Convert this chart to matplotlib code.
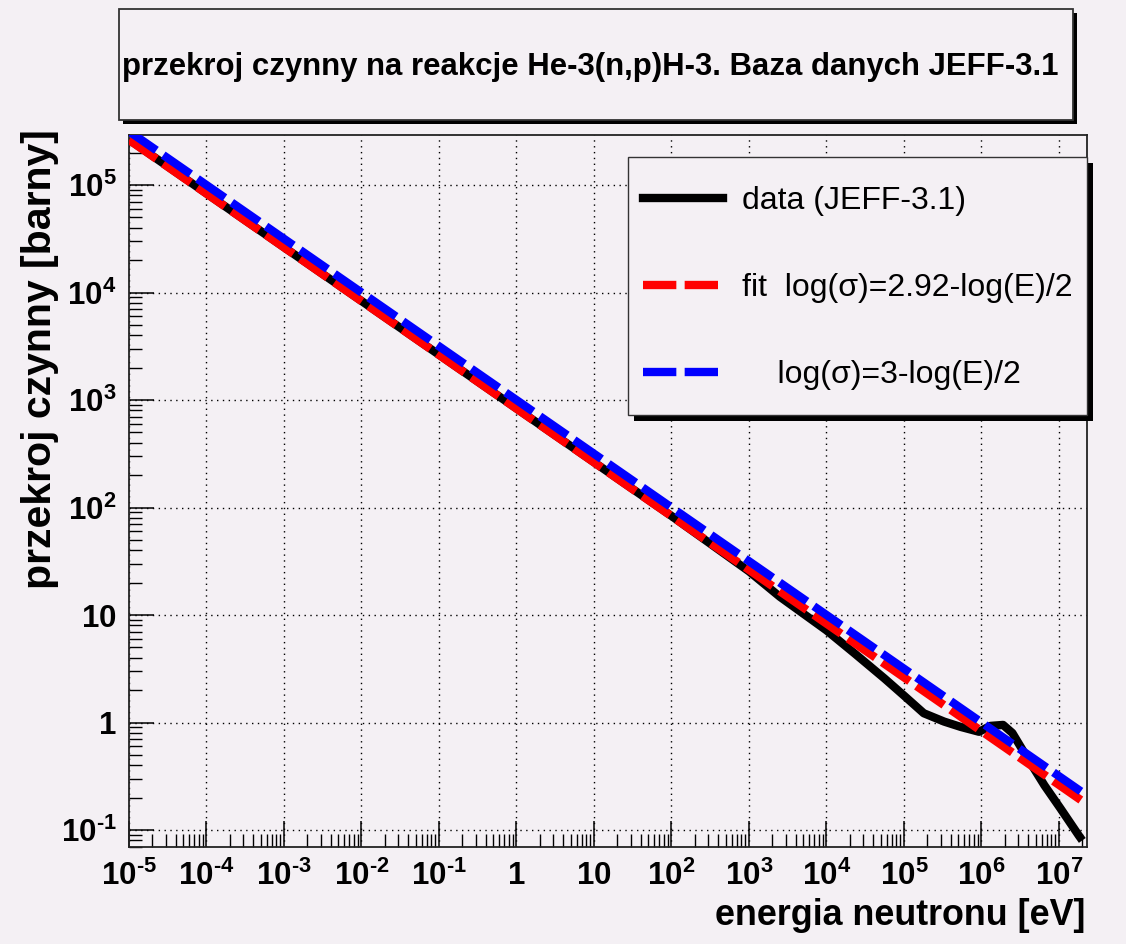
import matplotlib
matplotlib.use("Agg")
import matplotlib.pyplot as plt
from matplotlib.lines import Line2D
from matplotlib.patches import Rectangle
from matplotlib.ticker import LogLocator, FixedLocator, FixedFormatter, NullFormatter
import numpy as np

# ---------------- data ----------------
data_E = [1e-5, 1e-4, 1e-3, 1e-2, 1e-1, 1.0, 10.0, 1e2, 1e3, 2.5e3, 1.0e4, 2.3e4,
          5.6e4, 1.0e5, 1.8e5, 3.3e5, 5.4e5, 9.3e5, 1.3e6, 1.9e6, 2.5e6, 3.9e6,
          6.5e6, 1.05e7, 1.8e7, 2.0e7]
data_sigma = [2.65e5, 8.35e4, 2.64e4, 8.35e3, 2.64e3, 835.0, 264.0, 83.5, 25.5, 14.8,
              7.2, 4.4, 2.57, 1.78, 1.22, 1.02, 0.91, 0.82, 0.93, 0.95, 0.80, 0.47,
              0.26, 0.158, 0.089, 0.080]

fit_E = [1e-5, 2e7]
fit_sigma = [2.63e5, 0.186]      # log(sigma) = 2.92 - log(E)/2
ref_E = [1e-5, 2e7]
ref_sigma = [3.16e5, 0.224]      # log(sigma) = 3 - log(E)/2

HY = "\u2010"
x_ticks = [1e-5, 1e-4, 1e-3, 1e-2, 1e-1, 1, 10, 1e2, 1e3, 1e4, 1e5, 1e6, 1e7]
x_ticklabels = [r"$\mathbf{10^{" + HY + "5}}$", r"$\mathbf{10^{" + HY + "4}}$",
                r"$\mathbf{10^{" + HY + "3}}$", r"$\mathbf{10^{" + HY + "2}}$",
                r"$\mathbf{10^{" + HY + "1}}$", r"$\mathbf{1}$",
                r"$\mathbf{10}$", r"$\mathbf{10^{2}}$", r"$\mathbf{10^{3}}$",
                r"$\mathbf{10^{4}}$", r"$\mathbf{10^{5}}$", r"$\mathbf{10^{6}}$",
                r"$\mathbf{10^{7}}$"]
y_ticks = [1e-1, 1, 10, 1e2, 1e3, 1e4, 1e5]
y_ticklabels = [r"$\mathbf{10^{" + HY + "1}}$", r"$\mathbf{1}$", r"$\mathbf{10}$",
                r"$\mathbf{10^{2}}$", r"$\mathbf{10^{3}}$", r"$\mathbf{10^{4}}$",
                r"$\mathbf{10^{5}}$"]

labels = ["data (JEFF-3.1)", "fit  log(\u03c3)=2.92-log(E)/2", "    log(\u03c3)=3-log(E)/2"]
title = "przekroj czynny na reakcje He-3(n,p)H-3. Baza danych JEFF-3.1"
xlabel = "energia neutronu [eV]"
ylabel = "przekroj czynny [barny]"

# ---------------- style ----------------
plt.rcParams['font.family'] = ['Liberation Sans', 'DejaVu Sans']
plt.rcParams['mathtext.fontset'] = 'custom'
plt.rcParams['mathtext.rm'] = 'Liberation Sans'
plt.rcParams['mathtext.bf'] = 'Liberation Sans:bold'
plt.rcParams['mathtext.it'] = 'Liberation Sans:italic'

BG = '#f4f0f4'
W, H = 1126, 944
DPI = 100
fig = plt.figure(figsize=(W / DPI, H / DPI), dpi=DPI, facecolor=BG)

L, R, T, B = 129, 1087, 135, 847
ax = fig.add_axes([L / W, 1 - B / H, (R - L) / W, (B - T) / H], facecolor=BG)
ax.set_xscale('log')
ax.set_yscale('log')
ax.set_xlim(1e-5, 2.3e7)
ax.set_ylim(0.0695, 2.92e5)

dash = (4.0, 1.0)
LW = 6.0
ax.plot(data_E, data_sigma, color='black', lw=LW, solid_capstyle='butt',
        solid_joinstyle='round', zorder=3)
ax.plot(fit_E, fit_sigma, color='#ff0000', lw=LW, dashes=dash, dash_capstyle='butt', zorder=4)
ax.plot(ref_E, ref_sigma, color='#0000ff', lw=LW, dashes=dash, dash_capstyle='butt', zorder=5)

# ticks
ax.xaxis.set_major_locator(FixedLocator(x_ticks))
ax.xaxis.set_major_formatter(FixedFormatter(x_ticklabels))
ax.yaxis.set_major_locator(FixedLocator(y_ticks))
ax.yaxis.set_major_formatter(FixedFormatter(y_ticklabels))
ax.xaxis.set_minor_locator(LogLocator(base=10, subs=np.arange(2, 10), numticks=40))
ax.yaxis.set_minor_locator(LogLocator(base=10, subs=np.arange(2, 10), numticks=40))
ax.xaxis.set_minor_formatter(NullFormatter())
ax.yaxis.set_minor_formatter(NullFormatter())

ax.tick_params(axis='x', which='major', direction='in', length=19, width=1.1,
               labelsize=22.5, pad=10, top=False)
ax.tick_params(axis='x', which='minor', direction='in', length=9.5, width=1.0, top=False)
ax.tick_params(axis='y', which='major', direction='in', length=18, width=1.1,
               labelsize=22.5, pad=9, right=False)
ax.tick_params(axis='y', which='minor', direction='in', length=9, width=1.0, right=False)

ax.grid(True, which='major', color='black', lw=1.0, linestyle=(0, (1, 3.2)))
for s in ax.spines.values():
    s.set_linewidth(1.3)
    s.set_color('#222222')

ax.set_xlabel(xlabel, fontsize=25.8, fontweight='bold', loc='right')
ax.xaxis.set_label_coords(1.0 - 2 / (R - L), -(898 - B) / (B - T))
ax.set_ylabel(ylabel, fontsize=29.5, fontweight='bold', loc='top')
ax.yaxis.set_label_coords(-(L - 59) / (R - L), 1.0 + 6 / (B - T))

# legend: frame + shadow drawn as patches, entries by ax.legend
lx0, ly0, lx1, ly1 = 628, 157, 1087, 415
ax.add_artist(Rectangle(((lx0 + 6 - L) / (R - L), (B - ly1 - 6) / (B - T)),
                        (lx1 - lx0) / (R - L), (ly1 - ly0) / (B - T),
                        transform=ax.transAxes, facecolor='black', edgecolor='none',
                        clip_on=False, zorder=8))
ax.add_artist(Rectangle(((lx0 - L) / (R - L), (B - ly1) / (B - T)),
                        (lx1 - lx0) / (R - L), (ly1 - ly0) / (B - T),
                        transform=ax.transAxes, facecolor=BG, edgecolor='#333333',
                        lw=1.0, clip_on=False, zorder=9))

handles = [Line2D([], [], color='black', lw=LW),
           Line2D([], [], color='#ff0000', lw=LW, dashes=dash),
           Line2D([], [], color='#0000ff', lw=LW, dashes=dash)]
LFS = 23
leg = ax.legend(handles, labels, loc='upper left',
                bbox_to_anchor=((643 - L) / (R - L), 1 - (186 - T) / (B - T)),
                fontsize=LFS, handlelength=80 / (LFS * DPI / 72),
                handletextpad=19 / (LFS * DPI / 72),
                labelspacing=1.78, borderpad=0, borderaxespad=0, frameon=False)
leg.set_zorder(10)

# title box (figure pixels)
tx0, ty0, tx1, ty1 = 119, 9, 1073, 120
fig.patches.append(Rectangle(((tx0 + 4) / W, 1 - (ty1 + 4) / H), (tx1 - tx0) / W,
                             (ty1 - ty0) / H, transform=fig.transFigure,
                             facecolor='black', edgecolor='none', zorder=1))
fig.patches.append(Rectangle((tx0 / W, 1 - ty1 / H), (tx1 - tx0) / W, (ty1 - ty0) / H,
                             transform=fig.transFigure, facecolor=BG,
                             edgecolor='#333333', lw=1.3, zorder=2))
fig.text((tx0 + tx1) / 2 / W - 6 / W, 1 - 67 / H, title, ha='center', va='center',
         fontsize=22.4, fontweight='bold', zorder=3)

fig.savefig('out.png', dpi=DPI, facecolor=BG)
